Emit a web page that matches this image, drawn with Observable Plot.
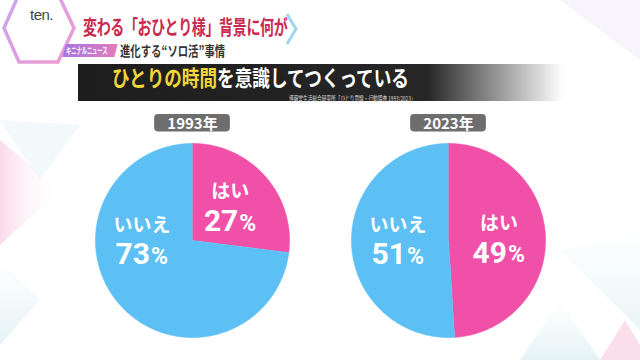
<!DOCTYPE html>
<html><head><meta charset="utf-8">
<script src="https://cdn.jsdelivr.net/npm/d3@7"></script>
<script src="https://cdn.jsdelivr.net/npm/@observablehq/plot@0.6"></script>
<style>
html,body{margin:0;padding:0}
body{width:640px;height:360px;overflow:hidden;background:#fff;position:relative;font-family:"Noto Sans CJK JP","Noto Sans",sans-serif}
.abs{position:absolute;white-space:nowrap}
#title{left:83px;top:17px;font-size:20px;line-height:20px;font-weight:700;color:#c92a4f;transform:scaleX(0.7);transform-origin:left center;letter-spacing:-0.5px}
#sub{left:120px;top:43px;font-size:14px;line-height:14px;font-weight:700;color:#333;transform:scaleX(0.74);transform-origin:left center}
#tag{left:64px;top:44px;width:52px;height:13px;background:linear-gradient(90deg,#a877e0,#e27ac0);transform:skewX(-15deg)}
#tagtxt{left:66px;top:46px;font-size:9px;line-height:9px;font-weight:700;color:#fff;transform:scaleX(0.58);transform-origin:left center}
#band{left:78px;top:64px;width:485px;height:37px;background:linear-gradient(90deg,#1d1d1d 0%,#262626 72%,rgba(50,50,50,0) 100%)}
#head{left:112px;top:65.5px;font-size:22px;line-height:21px;height:21px;font-weight:700;color:#fff;transform:scaleX(0.8);transform-origin:left center}
#head span{display:inline-block;line-height:21px;height:21px}
#head .y{color:#f3d63a}
#src{left:289px;top:94.5px;font-size:6.5px;line-height:6.5px;color:#ddd;transform:scaleX(0.72);transform-origin:left center}
#logo{left:30px;top:7px;font-size:15px;line-height:15px;color:#444;font-family:"Liberation Sans",sans-serif;letter-spacing:-0.5px}
#chart{position:absolute;left:0;top:104px}
</style></head><body>
<svg class="abs" style="left:0;top:0" width="640" height="360">
  <defs>
    <linearGradient id="hx" x1="0" y1="0" x2="1" y2="1"><stop offset="0" stop-color="#c9a6ef"/><stop offset="1" stop-color="#f19ad0"/></linearGradient>
    <linearGradient id="pk" x1="0" y1="0" x2="1" y2="0"><stop offset="0" stop-color="#f7c9e0" stop-opacity="0.7"/><stop offset="1" stop-color="#fff" stop-opacity="0"/></linearGradient>
    <linearGradient id="tl" x1="0" y1="0" x2="0" y2="1"><stop offset="0" stop-color="#d5eef0" stop-opacity="0"/><stop offset="1" stop-color="#cfe8ec" stop-opacity="0.9"/></linearGradient>
  </defs>
  <polygon points="0,140 60,190 0,245" fill="url(#pk)"/>
  <polygon points="0,120 80,125 40,180" fill="#eef6f8" opacity="0.7"/>
  <polygon points="0,260 40,300 0,345" fill="url(#tl)" opacity="0.6"/>
  <polygon points="560,250 640,230 640,330" fill="url(#tl)" opacity="0.5"/>
  <polygon points="520,360 560,300 600,360" fill="url(#tl)" opacity="0.6"/>
  <polygon points="600,360 625,320 640,345 640,360" fill="#f6c9de" opacity="0.6"/>
  <polygon points="560,0 640,0 640,60" fill="#f4f0fa" opacity="0.7"/>
  <polygon points="4,28 19,-6 58,-6 74,28 58,62 19,62" fill="#fff" fill-opacity="0.85" stroke="url(#hx)" stroke-width="3.5"/>
  <polygon points="76,12 292,12 300,29 292,46 76,46" fill="#fff" opacity="0.95"/>
  <polyline points="287,14 296,29 287,44" fill="none" stroke="#9fd6ef" stroke-width="3"/>
  <rect x="116" y="42" width="110" height="17" fill="#fff" opacity="0.9"/>
</svg>
<div id="logo" class="abs">ten.</div>
<div id="title" class="abs">変わる「おひとり様」背景に何が</div>
<div id="tag" class="abs"></div>
<div id="tagtxt" class="abs">キニナルニュース</div>
<div id="sub" class="abs">進化する“ソロ活”事情</div>
<div id="band" class="abs"></div>
<div id="head" class="abs"><span class="y">ひとりの時間</span><span>を意識してつくっている</span></div>
<div id="src" class="abs">博報堂生活総合研究所「ひとり意識・行動調査 1993/2023」</div>
<div id="chart"></div>
<script>
// ---- data ----
const years = ["1993年", "2023年"];
const answers = ["はい", "いいえ"];
const yesPct = [27, 49];
const noPct = [73, 51];
const colors = ["#f050a8", "#5cc0f4"];

// ---- build slices ----
const R = 0.379;
const slices = [];
years.forEach((yr, i) => {
  const vals = [yesPct[i], noPct[i]];
  const total = d3.sum(vals);
  let start = 0;
  vals.forEach((v, j) => {
    const a0 = start / total * 2 * Math.PI;
    const a1 = (start + v) / total * 2 * Math.PI;
    start += v;
    slices.push({year: yr, i, answer: answers[j], value: v, a0, a1, frac: v / total});
  });
});
const pts = [];
for (const s of slices) {
  const key = s.year + s.answer;
  pts.push({key, answer: s.answer, x: s.i, y: 0});
  const n = Math.max(2, Math.ceil((s.a1 - s.a0) / (Math.PI / 360)));
  for (let k = 0; k <= n; k++) {
    const t = s.a0 + (s.a1 - s.a0) * k / n;
    pts.push({key, answer: s.answer, x: s.i + R * Math.sin(t), y: R * Math.cos(t)});
  }
}
const labels = slices.map(s => {
  const t = s.frac > 0.5 ? 1.5 * Math.PI : (s.a0 + s.a1) / 2;
  const d = 0.52 * R;
  return {...s, x: s.i + d * Math.sin(t), y: d * Math.cos(t)};
});
const yearRows = years.map((y, i) => ({year: y, i}));
const FONT = "Roboto, 'Noto Sans CJK JP', sans-serif";
const JP = "'Noto Sans CJK JP', 'Noto Sans', sans-serif";

const plot = Plot.plot({
  width: 640, height: 256,
  margin: 0,
  x: {domain: [-0.75, 1.75], axis: null},
  y: {domain: [-0.46875, 0.53125], axis: null},
  color: {domain: answers, range: colors},
  style: {background: "transparent", fontFamily: JP},
  marks: [
    Plot.line(pts, {x: "x", y: "y", z: "key", fill: "answer", stroke: "answer", strokeWidth: 0.6, curve: "linear"}),
    Plot.rect(yearRows, {x1: d => d.i - 0.148, x2: d => d.i + 0.148, y1: 0.424, y2: 0.492, fill: "#6e6e6e", rx: 4}),
    Plot.text(yearRows, {x: "i", y: 0.458, text: "year", fill: "white", fontSize: 15, fontWeight: 700, dy: 1, fontFamily: JP}),
    Plot.text(labels, {x: "x", y: "y", text: "answer", fill: "white", fontSize: 19, fontWeight: 700, dy: -15, fontFamily: JP}),
    Plot.text(labels, {x: "x", y: "y", text: d => String(d.value), fill: "white", fontSize: 30, fontWeight: 700, dy: 14, dx: 8, textAnchor: "end", fontFamily: FONT}),
    Plot.text(labels, {x: "x", y: "y", text: () => "%", fill: "white", fontSize: 23, fontWeight: 700, dy: 16, dx: 9, textAnchor: "start", fontFamily: FONT})
  ]
});
document.getElementById("chart").appendChild(plot);
</script>
</body></html>
